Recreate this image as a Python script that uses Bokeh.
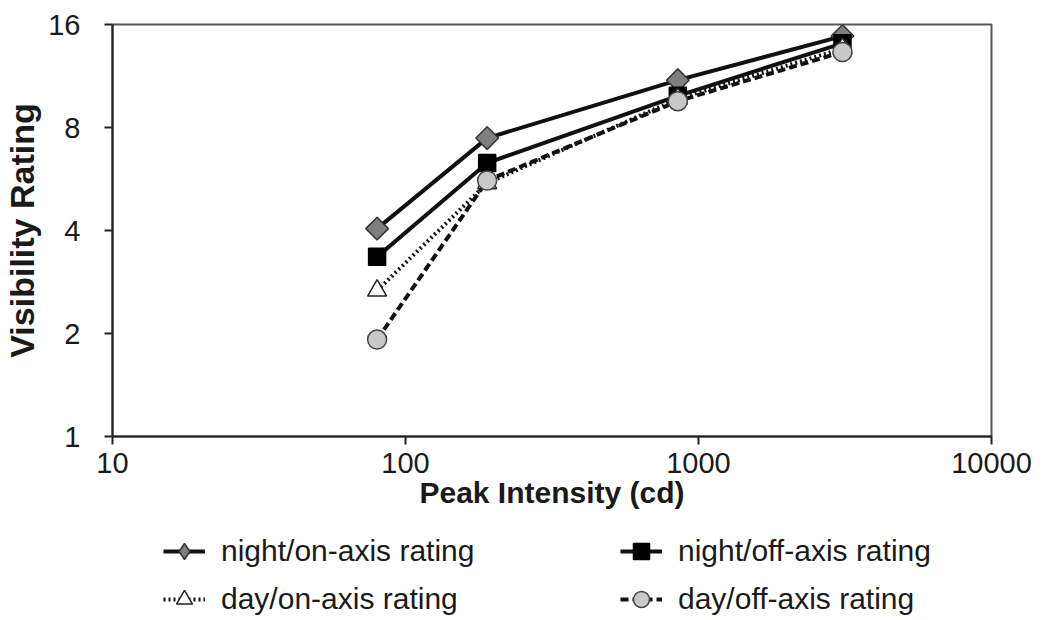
import math
from bokeh.plotting import figure
from bokeh.layouts import column
from bokeh.models import FixedTicker, BasicTickFormatter, Legend, LegendItem, Range1d
from bokeh.embed import file_html
from bokeh.resources import INLINE

intensity = [80, 190, 850, 3100]
night_on = [4.05, 7.45, 11.0, 14.8]
night_off = [3.35, 6.3, 9.9, 14.1]
day_on = [2.67, 5.5, 9.7, 13.6]
day_off = [1.92, 5.6, 9.55, 13.3]

x_ticks = [10, 100, 1000, 10000]
y_ticks = [1, 2, 4, 8, 16]

labels = ["night/on-axis rating", "night/off-axis rating",
          "day/on-axis rating", "day/off-axis rating"]

FONT = "Liberation Sans"

styles = [
    dict(dash="solid", marker="square", lmarker="diamond", angle=math.pi / 4,
         size=16, fill="#7f7f7f", mline="#333333"),
    dict(dash="solid", marker="square", lmarker="square", angle=0, size=17,
         fill="#000000", mline="#000000"),
    dict(dash="2 3", marker="triangle", lmarker="triangle", angle=0, size=19,
         fill="white", mline="#222222"),
    dict(dash="8 4", marker="circle", lmarker="circle", angle=0, size=19,
         fill="#c8c8c8", mline="#444444"),
]
series = [night_on, night_off, day_on, day_off]

p = figure(width=1047, height=520, x_axis_type="log", y_axis_type="log",
           x_range=(10, 10000), y_range=(1, 16),
           output_backend="svg", toolbar_location=None,
           min_border_left=112, min_border_right=56, min_border_top=24,
           min_border_bottom=84)
p.grid.visible = False
p.outline_line_color = "#555555"
p.outline_line_width = 2
p.background_fill_color = "white"
p.border_fill_color = "white"

for ax in (p.xaxis[0], p.yaxis[0]):
    ax.axis_line_color = "#222222"
    ax.axis_line_width = 2
    ax.major_tick_line_color = "#222222"
    ax.major_tick_line_width = 2
    ax.major_tick_out = 8
    ax.major_tick_in = 0
    ax.minor_tick_line_color = None
    ax.major_label_text_font = FONT
    ax.major_label_text_font_size = "29px"
    ax.major_label_text_color = "#1a1a1a"
    ax.axis_label_text_font = FONT
    ax.axis_label_text_font_style = "bold"
    ax.axis_label_text_color = "#1a1a1a"
    ax.formatter = BasicTickFormatter(use_scientific=False)

p.xaxis.ticker = FixedTicker(ticks=x_ticks, minor_ticks=[])
p.yaxis.ticker = FixedTicker(ticks=y_ticks, minor_ticks=[])
p.xaxis.axis_label = "Peak Intensity (cd)"
p.yaxis.axis_label = "Visibility Rating"
p.xaxis.axis_label_text_font_size = "30px"
p.yaxis.axis_label_text_font_size = "34px"
p.xaxis.major_label_standoff = 8
p.xaxis.axis_label_standoff = 0
p.yaxis.major_label_standoff = 24
p.yaxis.axis_label_standoff = 4

for ys, st in zip(series, styles):
    p.line(intensity, ys, line_color="#111111", line_width=4,
           line_dash=st["dash"])
    p.scatter(intensity, ys, marker=st["marker"], angle=st["angle"],
              size=st["size"], fill_color=st["fill"],
              line_color=st["mline"], line_width=1.5)

# legend panel (separate figure so it sits below the axis title);
# its renderers hold the same data but lie outside its (empty) view
q = figure(width=1047, height=100, output_backend="svg",
           toolbar_location=None, x_range=Range1d(-2, -1),
           y_range=Range1d(-2, -1), min_border=0,
           x_axis_location=None, y_axis_location=None)
q.grid.visible = False
q.outline_line_color = None
q.border_fill_color = "white"
q.background_fill_color = "white"

items = []
for lab, ys, st in zip(labels, series, styles):
    lr = q.line(intensity, ys, line_color="#111111", line_width=4,
                line_dash=st["dash"])
    mr = q.scatter(intensity, ys, marker=st["lmarker"],
                   size=st["size"], fill_color=st["fill"],
                   line_color=st["mline"], line_width=1.5)
    items.append(LegendItem(label=lab, renderers=[lr, mr]))


def make_legend(its, loc):
    lg = Legend(items=its, orientation="horizontal", location=loc)
    lg.label_text_font = FONT
    lg.label_text_font_size = "30px"
    lg.label_text_color = "#1a1a1a"
    lg.glyph_width = 42
    lg.glyph_height = 40
    lg.label_standoff = 16
    lg.label_width = 385
    lg.spacing = 14
    lg.border_line_color = None
    lg.background_fill_color = None
    lg.padding = 0
    lg.margin = 0
    return lg


q.add_layout(make_legend(items[:2], (51, 49)))
q.add_layout(make_legend(items[2:], (51, 1)))

open("out.html", "w").write(file_html(column(p, q, spacing=0), INLINE))
